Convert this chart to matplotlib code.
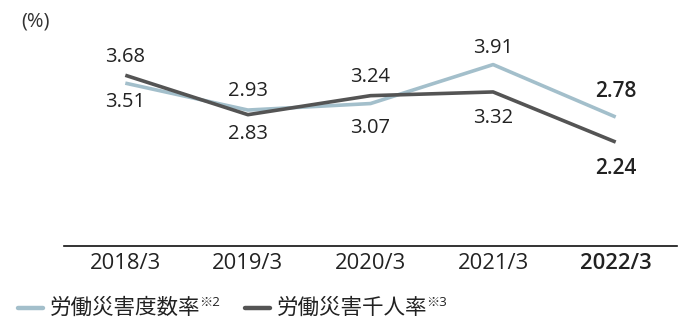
import matplotlib
matplotlib.use("Agg")
import matplotlib.pyplot as plt
from matplotlib.lines import Line2D

plt.rcParams['font.family'] = ['Open Sans', 'Noto Sans CJK JP', 'DejaVu Sans']

years = ['2018/3', '2019/3', '2020/3', '2021/3', '2022/3']
freq_rate = [3.51, 2.93, 3.07, 3.91, 2.78]     # 労働災害度数率
thousand_rate = [3.68, 2.83, 3.24, 3.32, 2.24]  # 労働災害千人率

# label distance from the point (px), the upper label / the lower label
gap_up = [18, 19, 19, 17, 26]
gap_down = [19, 19, 24, 26, 26]

light = '#a3bfcb'
dark = '#545454'
txt = '#222222'

fig = plt.figure(figsize=(6.89, 3.25), dpi=100)
ax = fig.add_axes([64 / 689, 79 / 325, 613 / 689, 232 / 325])

x = list(range(len(years)))
ax.plot(x, freq_rate, color=light, linewidth=2.6, solid_capstyle='butt')
ax.plot(x, thousand_rate, color=dark, linewidth=2.6, solid_capstyle='butt')

last = len(years) - 1
px2pt = 72 / 100
for i in x:
    for vals, other in ((freq_rate, thousand_rate), (thousand_rate, freq_rate)):
        v = vals[i]
        up = v >= other[i]
        off = gap_up[i] if up else -gap_down[i]
        ax.annotate(f'{v:.2f}', (i, v), xytext=(0, off * px2pt),
                    textcoords='offset points', ha='center', va='center',
                    fontsize=15 if i == last else 14.5, color=txt,
                    fontweight='semibold' if i == last else 'normal')

ax.set_xlim(-0.5, 4.5)
ax.set_ylim(0, 5)
ax.set_xticks(x)
ax.set_xticklabels(years, fontsize=15.8, color=txt)
ax.get_xticklabels()[last].set_fontweight('semibold')
ax.tick_params(axis='x', length=0, pad=5)
ax.set_yticks([])
for s in ['top', 'right', 'left']:
    ax.spines[s].set_visible(False)
ax.spines['bottom'].set_color('#111111')
ax.spines['bottom'].set_linewidth(1.2)

fig.text(21 / 689, 1 - 22 / 325, '(%)', fontsize=14.5, color='#333333',
         ha='left', va='center')

# legend drawn by hand so the ※ note can sit smaller beside each label
fig.canvas.draw()
renderer = fig.canvas.get_renderer()
legend_items = [(light, '労働災害度数率', '※2', 18), (dark, '労働災害千人率', '※3', 245)]
ly = 1 - 308 / 325
for color, label, note, px in legend_items:
    fig.add_artist(Line2D([px / 689, (px + 25) / 689], [ly, ly], color=color,
                          linewidth=3.2, solid_capstyle='round'))
    t = fig.text((px + 32) / 689, ly, label, fontsize=15.5, color=txt,
                 ha='left', va='center')
    bb = t.get_window_extent(renderer)
    fig.text((bb.x1 - 1) / 689, ly + 5 / 325, note, fontsize=9.5, color=txt,
             ha='left', va='center')

fig.savefig('out.png', dpi=100)
